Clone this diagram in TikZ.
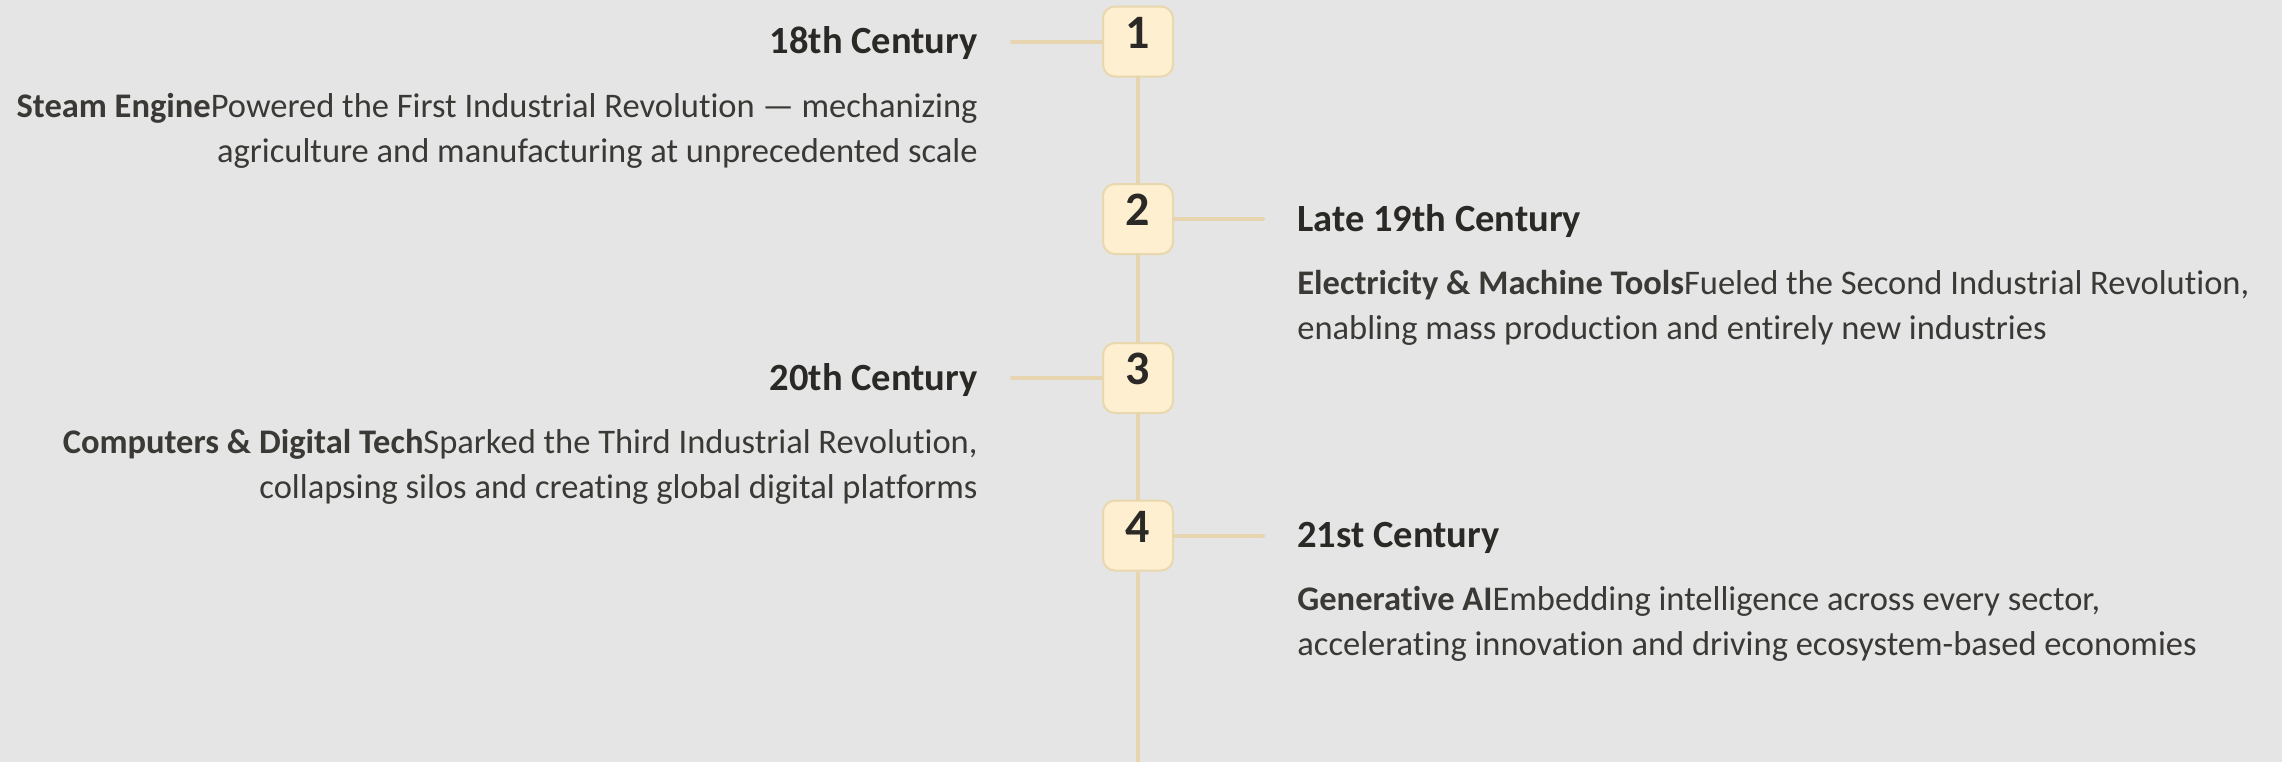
\documentclass[tikz,border=0pt]{standalone}
\usepackage{fontspec}
\setmainfont{Carlito}[Ligatures={NoCommon}]
\usetikzlibrary{positioning}

\definecolor{paper}{HTML}{E5E5E5}
\definecolor{boxfill}{HTML}{FDEFD0}
\definecolor{boxline}{HTML}{E9D7AE}
\definecolor{wire}{HTML}{E6D5AE}
\definecolor{ink}{HTML}{2A2926}
\definecolor{softink}{HTML}{3A3936}

\tikzset{%
	era/.style={draw=boxline, fill=boxfill, line width=1pt, rounded corners=6pt,%
		minimum size=35pt, inner sep=0pt, text=ink, text height=15pt, text depth=8.5pt,%
		font=\fontsize{24}{24}\selectfont\bfseries},
	heading/.style={inner sep=0pt, text=ink, yshift=-1pt, font=\fontsize{19.25}{22}\selectfont\bfseries},
	blurb/.style={inner sep=0pt, text=softink, font=\fontsize{17.25}{22.5}\selectfont},
	spine/.style={draw=wire, line width=2pt, line cap=round},
	tick/.style={spine, shorten >=17pt}
}

\begin{document}
\begin{tikzpicture}[x=0.5pt, y=-0.5pt]
	\fill[paper] (0,0) rectangle (2282,762);
	\useasboundingbox (0,0) rectangle (2282,762);

	% milestones on the spine
	\node[era] (n1) at (1138,41.5) {1};
	\node[era] (n2) at (1138,219) {2};
	\node[era] (n3) at (1138,378) {3};
	\node[era] (n4) at (1138,535.5) {4};
	\coordinate (tail) at (1138,762);

	% left side
	\node[heading, left=62pt of n1] (t1) {18th Century};
	\node[blurb, align=right, below left=16pt and 0pt of t1.south east] (d1)
		{\textbf{Steam Engine}Powered the First Industrial Revolution — mechanizing\\
		agriculture and manufacturing at unprecedented scale};
	\node[heading, left=62pt of n3] (t3) {20th Century};
	\node[blurb, align=right, below left=16pt and 0pt of t3.south east] (d3)
		{\textbf{Computers \& Digital Tech}Sparked the Third Industrial Revolution,\\
		collapsing silos and creating global digital platforms};

	% right side
	\node[heading, right=61.5pt of n2] (t2) {Late 19th Century};
	\node[blurb, align=left, below right=16pt and 0pt of t2.south west] (d2)
		{\textbf{Electricity \& Machine Tools}Fueled the Second Industrial Revolution,\\
		enabling mass production and entirely new industries};
	\node[heading, right=61.5pt of n4] (t4) {21st Century};
	\node[blurb, align=left, below right=16pt and 0pt of t4.south west] (d4)
		{\textbf{Generative AI}Embedding intelligence across every sector,\\
		accelerating innovation and driving ecosystem-based economies};

	\draw[spine] (n1) -- (n2);
	\draw[spine] (n2) -- (n3);
	\draw[spine] (n3) -- (n4);
	\draw[spine, line cap=butt] (n4) -- (tail);

	% level ticks out to the headings
	\draw[tick] (n1.west) -- (n1.west -| t1.east);
	\draw[tick] (n2.east) -- (n2.east -| t2.west);
	\draw[tick] (n3.west) -- (n3.west -| t3.east);
	\draw[tick] (n4.east) -- (n4.east -| t4.west);
\end{tikzpicture}
\end{document}
